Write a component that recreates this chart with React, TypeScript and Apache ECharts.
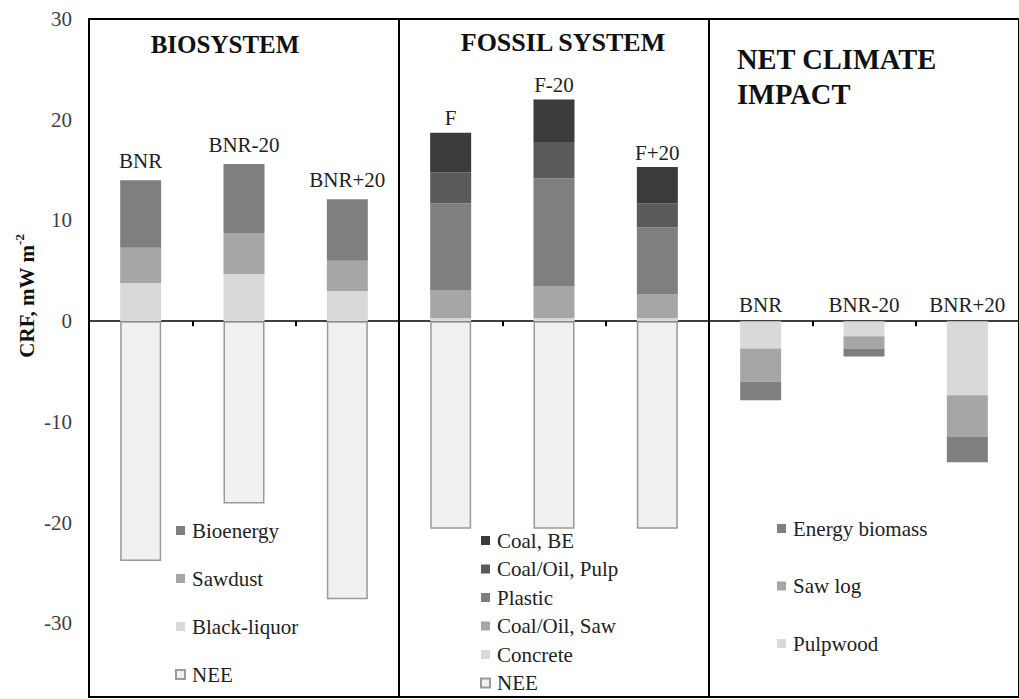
import React, { useEffect, useRef } from "react";
import * as echarts from "echarts";

const SERIF = "Liberation Serif";

// Scenario names per panel
const bioScenarios = ["BNR", "BNR-20", "BNR+20"];
const fossilScenarios = ["F", "F-20", "F+20"];
const netScenarios = ["BNR", "BNR-20", "BNR+20"];
const categoryKeys = [
  ...bioScenarios.map((s) => "Bio " + s),
  ...fossilScenarios.map((s) => "Fossil " + s),
  ...netScenarios.map((s) => "Net " + s),
];

// Y axis tick labels
const yTicks = [-30, -20, -10, 0, 10, 20, 30];

// Panel titles
const panelTitles = ["BIOSYSTEM", "FOSSIL SYSTEM", "NET CLIMATE\nIMPACT"];

// Biosystem (positive stack)
const blackLiquor = [3.8, 4.7, 3.0, null, null, null, null, null, null];
const sawdust = [3.5, 4.0, 3.0, null, null, null, null, null, null];
const bioenergy = [6.7, 6.9, 6.1, null, null, null, null, null, null];

// Fossil system (positive stack)
const concrete = [null, null, null, 0.3, 0.3, 0.3, null, null, null];
const coalOilSaw = [null, null, null, 2.8, 3.2, 2.35, null, null, null];
const plastic = [null, null, null, 8.6, 10.7, 6.65, null, null, null];
const coalOilPulp = [null, null, null, 3.1, 3.6, 2.4, null, null, null];
const coalBE = [null, null, null, 3.9, 4.2, 3.6, null, null, null];

// NEE (negative)
const nee = [-23.8, -18.1, -27.6, -20.6, -20.6, -20.6, null, null, null];

// Net climate impact (negative stack)
const pulpwood = [null, null, null, null, null, null, -2.7, -1.5, -7.35];
const sawLog = [null, null, null, null, null, null, -3.3, -1.2, -4.15];
const energyBiomass = [null, null, null, null, null, null, -1.85, -0.8, -2.5];

const C_DARKEST = "#3b3b3b";
const C_DARK = "#5a5a5a";
const C_MID = "#7f7f7f";
const C_LIGHT = "#a6a6a6";
const C_PALE = "#d9d9d9";

function bar(name: string, data: (number | null)[], color: string, extra: any = {}) {
  return {
    name,
    type: "bar",
    stack: "total",
    barWidth: 41,
    data: data.map((v) => (v === null ? "-" : v)),
    itemStyle: { color },
    ...extra,
  };
}

const topLabel = (names: string[], offset: number, distance = 6) => ({
  show: true,
  position: "top",
  distance,
  fontFamily: SERIF,
  fontSize: 21,
  color: "#222",
  formatter: (p: any) => names[p.dataIndex - offset] ?? "",
});

export default function App() {
  const ref = useRef<HTMLDivElement>(null);

  useEffect(() => {
    if (!ref.current) return;
    const chart = echarts.init(ref.current, null, { renderer: "svg" });
    const legendText = { fontFamily: SERIF, fontSize: 21, color: "#222", padding: [0, 0, 0, 2] };
    const legendBase = {
      orient: "vertical",
      icon: "rect",
      itemWidth: 9,
      itemHeight: 9,
      padding: 0,
      textStyle: legendText,
    };
    const option: any = {
      animation: false,
      backgroundColor: "#fff",
      textStyle: { fontFamily: SERIF },
      grid: {
        left: 89,
        right: -6,
        top: 19,
        bottom: 2,
        show: true,
        borderColor: "#000",
        borderWidth: 2,
        containLabel: false,
      },
      xAxis: {
        type: "category",
        data: categoryKeys,
        axisLine: { onZero: true, lineStyle: { color: "#000", width: 1.5 } },
        axisTick: {
          show: true,
          interval: (i: number) => i % 3 !== 0,
          length: 5,
          lineStyle: { color: "#000", width: 2 },
        },
        axisLabel: { show: false },
        splitLine: {
          show: true,
          interval: (i: number) => i === 3 || i === 6,
          lineStyle: { color: "#000", width: 2 },
        },
      },
      yAxis: {
        type: "value",
        min: -37.3,
        max: 30,
        axisLine: { show: false },
        axisTick: { show: false },
        splitLine: { show: false },
        axisLabel: {
          customValues: yTicks,
          fontFamily: SERIF,
          fontSize: 21,
          color: "#404040",
          margin: 17,
        },
      },
      legend: [
        {
          ...legendBase,
          data: ["Bioenergy", "Sawdust", "Black-liquor", "NEE"],
          left: 175,
          top: 520,
          itemGap: 27,
        },
        {
          ...legendBase,
          data: ["Coal, BE", "Coal/Oil, Pulp", "Plastic", "Coal/Oil, Saw", "Concrete", "NEE"],
          left: 480,
          top: 530,
          itemGap: 7.5,
        },
        {
          ...legendBase,
          data: ["Energy biomass", "Saw log", "Pulpwood"],
          left: 777,
          top: 518,
          itemGap: 36.5,
        },
      ],
      graphic: [
        {
          type: "text",
          x: 225,
          y: 44,
          style: {
            text: panelTitles[0],
            font: `bold 25px ${SERIF}`,
            fill: "#111",
            align: "center",
            verticalAlign: "middle",
          },
        },
        {
          type: "text",
          x: 563,
          y: 42,
          style: {
            text: panelTitles[1],
            font: `bold 26px ${SERIF}`,
            fill: "#111",
            align: "center",
            verticalAlign: "middle",
          },
        },
        {
          type: "text",
          x: 737,
          y: 42,
          style: {
            text: panelTitles[2],
            font: `bold 28.5px ${SERIF}`,
            lineHeight: 35,
            fill: "#111",
            align: "left",
            verticalAlign: "top",
          },
        },
        {
          type: "text",
          x: 25,
          y: 296,
          rotation: Math.PI / 2,
          style: {
            text: "{a|CRF, mW m}{b|-2}",
            align: "center",
            verticalAlign: "middle",
            rich: {
              a: { font: `bold 21px ${SERIF}`, fill: "#111", lineHeight: 24, verticalAlign: "bottom" },
              b: { font: `bold 13px ${SERIF}`, fill: "#111", lineHeight: 24, verticalAlign: "top" },
            },
          },
        },
      ],
      series: [
        bar("Black-liquor", blackLiquor, C_PALE),
        bar("Sawdust", sawdust, C_LIGHT),
        bar("Bioenergy", bioenergy, C_MID, { label: topLabel(bioScenarios, 0, 9) }),
        bar("Concrete", concrete, C_PALE),
        bar("Coal/Oil, Saw", coalOilSaw, C_LIGHT),
        bar("Plastic", plastic, C_MID),
        bar("Coal/Oil, Pulp", coalOilPulp, C_DARK),
        bar("Coal, BE", coalBE, C_DARKEST, { label: topLabel(fossilScenarios, 3, 4) }),
        bar("NEE", nee, "#f0f0f0", {
          itemStyle: { color: "#f0f0f0", borderColor: "#9a9a9a", borderWidth: 1.5 },
        }),
        bar("Pulpwood", pulpwood, C_PALE, { label: topLabel(netScenarios, 6, 6) }),
        bar("Saw log", sawLog, C_LIGHT),
        bar("Energy biomass", energyBiomass, C_MID),
      ],
    };
    chart.setOption(option);
    return () => chart.dispose();
  }, []);

  return (
    <div
      ref={ref}
      style={{ position: "fixed", left: 0, top: 0, width: 1019, height: 699, background: "#fff" }}
    />
  );
}
